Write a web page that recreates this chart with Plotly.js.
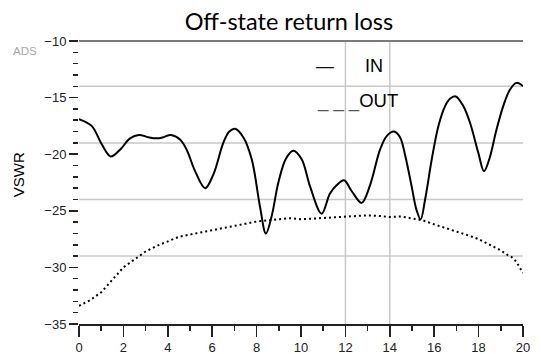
<!DOCTYPE html>
<html>
<head>
<meta charset="utf-8">
<script src="https://cdn.plot.ly/plotly-3.0.1.min.js"></script>
<style>html,body{margin:0;padding:0;background:#fff;}#chart{width:541px;height:354px;}</style>
</head>
<body>
<div id="chart"></div>
<script>
// Frequency (x) and return-loss values
const inFreq = [0, 0.57, 1.02, 1.43, 1.85, 2.3, 2.7, 3.12, 3.5, 3.8, 4.14, 4.55, 4.85, 5.23, 5.68, 6.05, 6.5, 6.77, 7.03, 7.4, 7.78, 8.15, 8.42, 8.68, 8.98, 9.32, 9.65, 10.03, 10.4, 10.93, 11.3, 11.6, 11.94, 12.28, 12.73, 13.1, 13.56, 13.86, 14.19, 14.46, 14.68, 14.98, 15.2, 15.39, 15.59, 15.89, 16.19, 16.49, 16.71, 16.97, 17.31, 17.61, 17.99, 18.24, 18.48, 18.81, 19.11, 19.41, 19.71, 20];
const inVal = [-16.9, -17.5, -19.1, -20.2, -19.6, -18.6, -18.3, -18.5, -18.6, -18.5, -18.3, -18.7, -19.6, -21.5, -23.0, -21.8, -19.0, -18.0, -17.75, -18.5, -20.45, -24.6, -27.0, -25.45, -22.5, -20.4, -19.7, -20.45, -22.8, -25.25, -23.5, -22.75, -22.3, -23.25, -24.3, -22.8, -19.6, -18.4, -18.0, -18.5, -20.0, -22.8, -24.9, -25.75, -24.0, -20.45, -17.5, -15.75, -15.1, -14.9, -15.75, -17.2, -19.9, -21.5, -20.45, -17.8, -15.75, -14.3, -13.7, -14.0];

const outFreq = [0, 0.5, 1, 1.5, 2, 2.5, 3, 3.5, 4, 4.5, 5, 5.5, 6, 6.5, 7, 7.5, 8, 8.5, 9, 9.5, 10, 10.5, 11, 11.5, 12, 12.5, 13, 13.5, 14, 14.5, 15, 15.5, 16, 16.5, 17, 17.5, 18, 18.5, 19, 19.3, 19.5, 19.7, 20];
const outVal = [-33.4, -32.9, -32.2, -31.1, -30.0, -29.3, -28.6, -28.1, -27.7, -27.3, -27.1, -26.9, -26.7, -26.5, -26.3, -26.1, -25.95, -25.85, -25.75, -25.65, -25.75, -25.7, -25.6, -25.6, -25.5, -25.45, -25.4, -25.45, -25.55, -25.5, -25.65, -25.85, -26.2, -26.5, -26.85, -27.15, -27.5, -28.0, -28.5, -28.9, -29.1, -29.5, -30.5];

const gridY = [-14, -19, -24, -29];
const gridX = [12, 14];

const titleText = 'Off-state return loss';
const yTitle = 'VSWR';
const inLabel = 'IN';
const outLabel = 'OUT';

const sans = 'Liberation Sans, Arial, sans-serif';
const tickFont = {family: sans, size: 13, color: '#222'};

const traces = [
  {x: inFreq, y: inVal, type: 'scatter', mode: 'lines', name: inLabel,
   line: {color: '#000', width: 2, shape: 'spline', smoothing: 1}},
  {x: outFreq, y: outVal, type: 'scatter', mode: 'lines', name: outLabel,
   line: {color: '#000', width: 2, dash: '2px,3px'}}
];

const shapes = [];
gridY.forEach(v => shapes.push({type: 'line', layer: 'below', xref: 'paper', x0: 0, x1: 1, yref: 'y', y0: v, y1: v,
  line: {color: '#c8c8c8', width: 1.5}}));
gridX.forEach(v => shapes.push({type: 'line', layer: 'below', yref: 'paper', y0: 0, y1: 1, xref: 'x', x0: v, x1: v,
  line: {color: '#c8c8c8', width: 1.5}}));
shapes.push({type: 'line', layer: 'above', xref: 'paper', x0: 0, x1: 1, yref: 'paper', y0: 1, y1: 1,
  line: {color: '#7a7a7a', width: 2}});

const layout = {
  width: 541, height: 354,
  margin: {l: 79, r: 18, t: 41, b: 30, pad: 0},
  paper_bgcolor: '#fff', plot_bgcolor: '#fff',
  showlegend: false,
  title: {text: titleText, x: 0.534, xref: 'container', xanchor: 'center', y: 0.938, yref: 'container', yanchor: 'middle',
          font: {family: 'Lato, sans-serif', size: 23.5, color: '#000'}},
  xaxis: {range: [0, 20], tick0: 0, dtick: 2, ticks: 'outside', ticklen: 11, tickwidth: 1.5, tickcolor: '#222',
          showline: true, linecolor: '#222', linewidth: 1.5, showgrid: false, zeroline: false,
          tickfont: tickFont,
          minor: {dtick: 1, ticks: 'outside', ticklen: 5, tickwidth: 1.5, tickcolor: '#222', showgrid: false}},
  yaxis: {range: [-35, -10], tick0: -35, dtick: 5, ticks: 'outside', ticklen: 9, tickwidth: 1.5, tickcolor: '#222',
          showline: false, showgrid: false, zeroline: false, tickfont: tickFont,
          minor: {dtick: 1, ticks: 'outside', ticklen: 5, tickwidth: 1.5, tickcolor: '#222', showgrid: false}},
  shapes: shapes,
  annotations: [
    {text: yTitle, xref: 'paper', yref: 'paper', x: -0.137, y: 0.5265, textangle: -90, showarrow: false,
     xanchor: 'center', yanchor: 'middle', font: {family: sans, size: 15, color: '#000'}},
    {text: 'ADS', xref: 'paper', yref: 'paper', x: -0.1216, y: 0.963, showarrow: false, xanchor: 'center', yanchor: 'middle',
     font: {family: sans, size: 11.5, color: '#a8a8a8'}},
    {text: '—', xref: 'paper', yref: 'paper', x: 0.554, y: 0.913, showarrow: false, xanchor: 'center', yanchor: 'middle',
     font: {family: sans, size: 18, color: '#111'}},
    {text: inLabel, xref: 'paper', yref: 'paper', x: 0.664, y: 0.913, showarrow: false, xanchor: 'center', yanchor: 'middle',
     font: {family: sans, size: 18, color: '#000'}},
    {text: '<span style="color:#555">_ _ _</span>' + outLabel, xref: 'paper', yref: 'paper', x: 0.5315, y: 0.789, showarrow: false,
     xanchor: 'left', yanchor: 'middle', font: {family: sans, size: 18.5, color: '#000'}}
  ]
};

Plotly.newPlot('chart', traces, layout, {staticPlot: true, displayModeBar: false});
</script>
</body>
</html>
